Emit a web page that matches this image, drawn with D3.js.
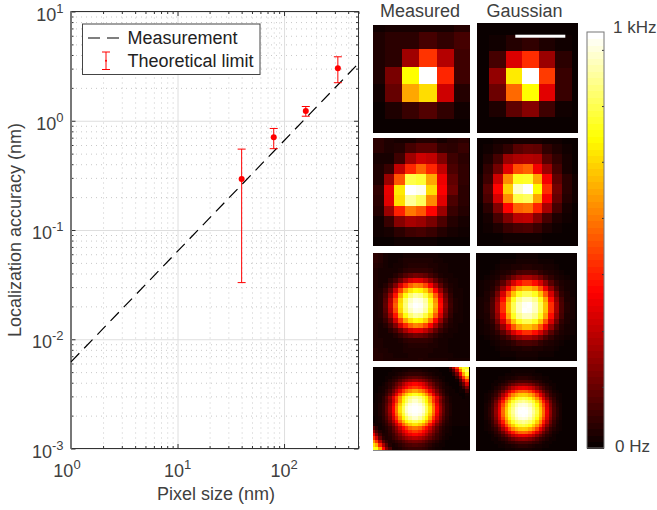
<!DOCTYPE html>
<html>
<head>
<meta charset="utf-8">
<script src="https://cdn.jsdelivr.net/npm/d3@7"></script>
<style>
  html, body { margin: 0; padding: 0; background: #fff; }
  svg { display: block; }
  text { font-family: "Liberation Sans", Helvetica, Arial, sans-serif; fill: #404040; }
</style>
</head>
<body>
<svg id="chart" width="657" height="510"></svg>
<script>
// line + error bars
const pixelSize = [40, 80, 160, 320];
const limitValue = [0.293, 0.705, 1.23, 3.02];
const limitLow = [0.033, 0.555, 1.10, 2.23];
const limitHigh = [0.55, 0.85, 1.35, 3.85];
const measureX = [1, 500];
const measureY = [0.0062, 3.35];
const xDecades = [1, 10, 100];
const xExponents = ["0", "1", "2"];
const yDecades = [10, 1, 0.1, 0.01, 0.001];
const yExponents = ["1", "0", "-1", "-2", "-3"];
const legendLabels = ["Measurement", "Theoretical limit"];
const columnTitles = ["Measured", "Gaussian"];
const colorbarLabels = ["1 kHz", "0 Hz"];
const colorbarTicks = [0.147, 0.281, 0.418, 0.553, 0.688, 0.822, 0.957];

// heat maps, percent of 1 kHz
const measured1 = [
  [1,2,2,2,2,4],
  [3,5,5,9,6,9],
  [3,5,23,45,26,8],
  [3,17,75,100,43,8],
  [1,14,62,70,30,4],
  [0,3,7,11,6,1],
  [0,0,0,0,0,0]
];
const gaussian1 = [
  [0,0,0,0,0,0,0],
  [0,1,4,6,3,1,0],
  [0,9,32,44,22,5,0],
  [0,21,72,100,46,7,0],
  [0,15,53,75,33,7,0],
  [0,3,13,19,8,1,0],
  [0,0,0,0,0,0,0]
];
const measured2 = [
  [5,3,2,2,4,4,2,4,5],
  [5,3,4,9,12,12,6,5,7],
  [2,2,8,23,30,28,18,8,5],
  [3,7,28,43,52,43,28,10,6],
  [3,22,50,82,80,62,35,13,6],
  [6,34,72,100,98,70,37,15,5],
  [5,33,70,90,84,58,33,10,5],
  [4,22,42,55,50,38,22,7,4],
  [1,7,19,24,22,17,10,4,2],
  [1,2,5,8,9,7,4,2,1],
  [0,0,1,1,1,1,0,0,0]
];
const gaussian2 = [
  [0,0,1,1,2,2,2,1,1,0,0],
  [0,1,3,6,12,14,13,6,3,1,0],
  [0,3,9,22,25,26,25,12,6,2,0],
  [0,6,16,33,49,52,36,22,9,2,0],
  [1,8,30,58,78,79,62,36,13,5,1],
  [1,12,38,68,95,100,75,44,16,5,1],
  [1,10,31,58,82,84,62,36,14,4,1],
  [0,5,18,38,52,54,42,24,9,2,0],
  [0,2,9,18,27,28,19,9,3,1,0],
  [0,1,3,7,9,10,7,3,1,0,0],
  [0,0,0,1,1,1,1,0,0,0,0]
];
const measured3 = [
  [5,4,2,1,1,1,2,2,2,2,2,2,2,1,1,1,1,1,1,1],
  [5,4,2,1,1,2,3,3,3,3,3,3,2,2,1,1,1,1,1,1],
  [4,3,2,1,2,2,3,4,4,4,4,3,3,2,2,1,1,1,1,1],
  [3,2,2,2,2,3,5,6,6,6,6,5,3,2,2,1,1,1,1,1],
  [3,2,2,2,4,7,11,14,16,15,13,9,6,3,2,2,1,1,1,1],
  [3,2,2,5,9,16,24,31,34,33,28,21,13,7,4,2,2,1,1,1],
  [3,2,4,9,18,31,43,52,57,55,48,37,24,13,6,3,2,1,1,1],
  [3,3,7,15,30,47,62,71,76,74,68,55,38,22,10,4,2,2,1,1],
  [3,4,10,22,40,61,76,86,91,89,81,69,51,31,15,6,2,2,1,1],
  [3,4,12,27,48,69,85,94,98,97,91,77,59,37,18,7,3,2,1,1],
  [3,4,13,29,51,71,87,97,100,99,93,80,62,39,20,8,3,2,1,1],
  [3,4,12,27,48,69,85,94,98,97,91,77,59,37,18,7,3,2,1,1],
  [3,4,10,22,40,61,76,86,91,89,81,69,51,31,15,6,2,2,1,1],
  [3,3,7,15,30,47,62,71,76,74,68,55,38,22,10,4,2,2,1,1],
  [3,2,4,9,18,31,43,52,57,55,48,37,24,13,6,3,2,1,1,1],
  [3,2,2,5,9,16,24,31,34,33,28,21,13,7,4,2,2,1,1,1],
  [3,2,2,2,4,7,11,14,16,15,13,9,6,3,2,2,1,1,1,1],
  [3,3,2,2,2,3,5,6,6,6,6,5,3,2,2,1,1,1,1,1],
  [3,3,2,2,2,2,3,4,4,4,4,3,3,2,2,1,1,1,1,1],
  [4,3,3,2,2,2,3,3,3,3,3,3,2,2,2,1,1,1,1,1],
  [4,4,3,3,2,2,2,3,3,3,3,2,2,2,2,2,1,1,1,1],
  [4,4,3,3,3,3,3,3,3,4,3,3,3,3,3,2,2,2,2,2]
];
const gaussian3 = [
  [0,0,0,0,0,0,0,0,1,1,1,1,0,0,0,0,0,0,0],
  [0,0,0,0,0,1,1,1,2,2,2,2,1,1,1,0,0,0,0],
  [0,0,0,0,1,2,2,3,3,4,4,3,3,2,2,1,0,0,0],
  [0,0,0,1,2,3,4,6,9,10,10,9,6,4,3,2,1,0,0],
  [0,0,1,2,3,6,10,16,21,24,24,21,16,10,6,3,2,1,0],
  [0,1,2,3,6,12,21,31,39,44,44,39,31,21,12,6,3,2,1],
  [0,1,2,4,10,21,35,50,61,66,66,61,50,35,21,10,4,2,1],
  [0,1,3,6,16,31,50,66,78,83,83,78,66,50,31,16,6,3,1],
  [1,2,3,9,21,39,61,78,89,94,94,89,78,61,39,21,9,3,2],
  [1,2,4,10,24,44,66,83,94,99,100,94,83,66,44,24,10,4,2],
  [1,2,4,10,24,44,66,83,94,100,99,94,83,66,44,24,10,4,2],
  [1,2,3,9,21,39,61,78,89,94,94,89,78,61,39,21,9,3,2],
  [0,1,3,6,16,31,50,66,78,83,83,78,66,50,31,16,6,3,1],
  [0,1,2,4,10,21,35,50,61,66,66,61,50,35,21,10,4,2,1],
  [0,1,2,3,6,12,21,31,39,44,44,39,31,21,12,6,3,2,1],
  [0,0,1,2,3,6,10,16,21,24,24,21,16,10,6,3,2,1,0],
  [0,0,0,1,2,3,4,6,9,10,10,9,6,4,3,2,1,0,0],
  [0,0,0,0,1,2,2,3,3,4,4,3,3,2,2,1,0,0,0],
  [0,0,0,0,0,1,1,1,2,2,2,2,1,1,1,0,0,0,0],
  [0,0,0,0,0,0,0,0,1,1,1,1,0,0,0,0,0,0,0]
];
const measured4 = [
  [0,0,0,0,0,0,0,1,1,1,1,1,1,1,1,1,1,1,1,0,0,0,0,10,25,45,70,80,78],
  [0,0,0,0,0,0,1,1,1,2,2,3,3,3,3,2,2,1,1,1,0,0,0,3,12,30,55,76,85],
  [0,0,0,0,0,1,1,2,3,4,5,6,6,6,6,5,4,3,2,1,1,0,0,0,5,16,38,62,78],
  [0,0,0,0,1,1,3,4,6,8,10,12,13,13,12,10,8,6,4,3,1,1,0,0,0,7,22,45,62],
  [0,0,0,0,1,3,5,7,11,15,18,21,23,23,21,18,15,11,7,5,3,1,0,0,0,1,11,28,45],
  [0,0,0,1,3,5,8,13,18,25,31,35,38,38,35,31,25,18,13,8,5,3,1,0,0,0,5,14,30],
  [0,0,1,2,3,6,11,17,24,32,38,43,46,46,43,38,32,24,17,11,6,3,2,1,0,0,1,7,17],
  [0,0,1,2,5,9,16,25,34,45,53,58,62,62,58,53,45,34,25,16,9,5,2,1,1,0,1,1,8],
  [0,1,2,3,7,13,22,34,47,59,68,74,78,78,74,68,59,47,34,22,13,7,3,1,1,1,0,0,2],
  [0,1,2,5,11,20,33,46,59,72,81,87,90,90,87,81,72,59,46,33,20,11,5,2,1,1,1,0,1],
  [0,1,2,5,10,18,31,45,61,74,84,91,95,95,91,84,74,61,45,31,18,10,5,2,1,1,1,1,1],
  [1,1,3,6,12,21,35,52,67,80,91,97,99,99,97,91,80,67,52,35,21,12,6,3,1,1,1,1,1],
  [1,1,3,6,13,23,38,55,71,84,95,99,100,100,99,95,84,71,55,38,23,13,6,3,1,1,1,1,1],
  [1,1,3,6,13,23,38,55,71,84,95,99,100,100,99,95,84,71,55,38,23,13,6,3,1,1,1,1,1],
  [1,1,3,6,12,21,35,52,67,80,91,97,99,99,97,91,80,67,52,35,21,12,6,3,1,1,1,1,1],
  [0,1,2,5,10,18,31,45,61,74,84,91,95,95,91,84,74,61,45,31,18,10,5,2,1,1,1,1,1],
  [0,1,2,4,8,15,25,38,52,64,74,80,84,84,80,74,64,52,38,25,15,8,4,2,1,1,1,1,1],
  [3,1,1,3,6,11,18,29,40,52,61,67,71,71,67,61,52,40,29,18,11,6,3,2,1,1,1,1,1],
  [12,5,1,2,4,7,13,20,29,38,45,52,55,55,52,45,38,29,20,13,7,4,2,1,0,0,0,0,0],
  [22,10,4,2,3,6,11,17,24,32,38,43,46,46,43,38,32,24,17,11,6,3,2,1,0,0,0,0,0],
  [35,18,8,3,3,5,8,13,18,25,31,35,38,38,35,31,25,18,13,8,5,3,1,1,0,0,0,0,0],
  [45,30,14,5,3,4,7,10,14,18,22,25,27,27,25,22,18,14,10,7,4,2,1,0,0,0,0,0,0],
  [58,45,26,12,6,3,4,6,8,11,14,16,17,17,16,14,11,8,6,4,2,1,0,0,0,0,0,0,0],
  [70,62,42,24,12,4,2,3,5,7,9,10,11,11,10,9,7,5,3,2,1,1,0,0,0,0,0,0,0],
  [78,76,60,38,18,10,2,2,3,5,6,7,7,7,7,6,5,3,2,1,1,0,0,0,0,0,0,0,0]
];
const gaussian4 = [
  [0,0,0,0,0,0,0,0,0,0,0,0,0,0,0,0,0,0,0,0,0,0,0,0,0,0,0,0,0,0],
  [0,0,0,0,0,0,0,0,0,0,0,1,1,1,1,1,1,1,0,0,0,0,0,0,0,0,0,0,0,0],
  [0,0,0,0,0,0,0,0,0,1,1,1,2,2,2,2,2,1,1,1,0,0,0,0,0,0,0,0,0,0],
  [0,0,0,0,0,0,0,1,1,2,2,3,4,5,5,5,4,3,2,2,1,1,0,0,0,0,0,0,0,0],
  [0,0,0,0,0,0,1,1,2,4,6,7,9,10,10,10,9,7,6,4,2,1,1,0,0,0,0,0,0,0],
  [0,0,0,0,0,1,1,3,5,7,11,15,18,20,21,20,18,15,11,7,5,3,1,1,0,0,0,0,0,0],
  [0,0,0,0,0,1,3,5,9,14,20,27,31,34,35,34,31,27,20,14,9,5,3,1,0,0,0,0,0,0],
  [0,0,0,0,1,2,5,9,15,24,32,41,48,52,53,52,48,41,32,24,15,9,5,2,1,0,0,0,0,0],
  [0,0,0,1,2,4,7,14,24,34,47,57,63,67,68,67,63,57,47,34,24,14,7,4,2,1,0,0,0,0],
  [0,0,0,1,2,6,11,20,32,47,59,68,76,80,82,80,76,68,59,47,32,20,11,6,2,1,0,0,0,0],
  [0,0,0,1,3,7,15,27,41,57,68,79,85,88,90,88,85,79,68,57,41,27,15,7,3,1,0,0,0,0],
  [0,0,0,2,4,9,18,32,48,63,76,85,92,96,97,96,92,85,76,63,48,32,18,9,4,2,0,0,0,0],
  [0,0,0,2,5,10,20,34,52,67,80,88,96,99,100,99,96,88,80,67,52,34,20,10,5,2,0,0,0,0],
  [0,0,0,2,5,10,21,35,53,68,82,90,97,100,100,100,97,90,82,68,53,35,21,10,5,2,0,0,0,0],
  [0,0,0,2,5,10,20,34,52,67,80,88,96,99,100,99,96,88,80,67,52,34,20,10,5,2,0,0,0,0],
  [0,0,0,2,4,9,18,32,48,63,76,85,92,96,97,96,92,85,76,63,48,32,18,9,4,2,0,0,0,0],
  [0,0,0,1,3,7,15,27,41,57,68,79,85,88,90,88,85,79,68,57,41,27,15,7,3,1,0,0,0,0],
  [0,0,0,1,2,6,11,20,32,47,59,68,76,80,82,80,76,68,59,47,32,20,11,6,2,1,0,0,0,0],
  [0,0,0,1,2,4,7,14,24,34,47,57,63,67,68,67,63,57,47,34,24,14,7,4,2,1,0,0,0,0],
  [0,0,0,0,1,2,5,9,15,24,32,41,48,52,53,52,48,41,32,24,15,9,5,2,1,0,0,0,0,0],
  [0,0,0,0,0,1,3,5,9,14,20,27,31,34,35,34,31,27,20,14,9,5,3,1,0,0,0,0,0,0],
  [0,0,0,0,0,1,1,3,5,7,11,15,18,20,21,20,18,15,11,7,5,3,1,1,0,0,0,0,0,0],
  [0,0,0,0,0,0,1,1,2,4,6,7,9,10,10,10,9,7,6,4,2,1,1,0,0,0,0,0,0,0],
  [0,0,0,0,0,0,0,1,1,2,2,3,4,5,5,5,4,3,2,2,1,1,0,0,0,0,0,0,0,0],
  [0,0,0,0,0,0,0,0,0,1,1,1,2,2,2,2,2,1,1,1,0,0,0,0,0,0,0,0,0,0]
];

const svg = d3.select("#chart");

// matlab "hot"
const hot = d3.scaleLinear()
  .domain([0, 0.375, 0.75, 1])
  .range(["#0a0000", "#ff0000", "#ffff00", "#ffffff"])
  .clamp(true);

// ---------- left plot ----------
const plot = { left: 71, right: 358.5, top: 11.5, bottom: 448.5 };
const x = d3.scaleLog().domain([1, 500]).range([plot.left, plot.right]);
const y = d3.scaleLog().domain([0.001, 10]).range([plot.bottom, plot.top]);
const plotW = plot.right - plot.left;
const plotH = plot.bottom - plot.top;

const xMinor = x.ticks().filter(d => !xDecades.includes(d));
const yMinor = y.ticks().filter(d => !yDecades.some(v => Math.abs(v - d) < v * 1e-6));

// grid
svg.append("g").attr("transform", `translate(0,${plot.bottom})`)
  .call(d3.axisBottom(x).tickValues(xMinor).tickSize(-plotH).tickFormat(""))
  .call(g => g.select(".domain").remove())
  .call(g => g.selectAll("line").attr("stroke", "#c8c8c8").attr("stroke-dasharray", "1,4"));
svg.append("g").attr("transform", `translate(${plot.left},0)`)
  .call(d3.axisLeft(y).tickValues(yMinor).tickSize(-plotW).tickFormat(""))
  .call(g => g.select(".domain").remove())
  .call(g => g.selectAll("line").attr("stroke", "#c8c8c8").attr("stroke-dasharray", "1,4"));
svg.append("g").attr("transform", `translate(0,${plot.bottom})`)
  .call(d3.axisBottom(x).tickValues(xDecades).tickSize(-plotH).tickFormat(""))
  .call(g => g.select(".domain").remove())
  .call(g => g.selectAll("line").attr("stroke", "#dedede"));
svg.append("g").attr("transform", `translate(${plot.left},0)`)
  .call(d3.axisLeft(y).tickValues(yDecades).tickSize(-plotW).tickFormat(""))
  .call(g => g.select(".domain").remove())
  .call(g => g.selectAll("line").attr("stroke", "#dedede"));

// inward ticks on all four sides
function ticks(axis, vals, size, tx, ty, color) {
  svg.append("g").attr("transform", `translate(${tx},${ty})`)
    .call(axis.tickValues(vals).tickSize(size).tickFormat(""))
    .call(g => g.select(".domain").remove())
    .call(g => g.selectAll("line").attr("stroke", color));
}
ticks(d3.axisBottom(x), xMinor, -2.5, 0, plot.bottom, "#333");
ticks(d3.axisBottom(x), xDecades, -4.5, 0, plot.bottom, "#333");
ticks(d3.axisTop(x), xMinor, -2.5, 0, plot.top, "#333");
ticks(d3.axisTop(x), xDecades, -4.5, 0, plot.top, "#333");
ticks(d3.axisLeft(y), yMinor, -2.5, plot.left, 0, "#333");
ticks(d3.axisLeft(y), yDecades, -4.5, plot.left, 0, "#333");
ticks(d3.axisRight(y), yMinor, -2.5, plot.right, 0, "#333");
ticks(d3.axisRight(y), yDecades, -4.5, plot.right, 0, "#333");

// frame
svg.append("rect")
  .attr("x", plot.left).attr("y", plot.top)
  .attr("width", plotW).attr("height", plotH)
  .attr("fill", "none").attr("stroke", "#333");
svg.append("line")
  .attr("x1", plot.left).attr("x2", plot.left)
  .attr("y1", plot.top).attr("y2", plot.bottom)
  .attr("stroke", "#777").attr("stroke-width", 2);

// measurement line
const line = d3.line().x(d => x(d[0])).y(d => y(d[1]));
svg.append("path")
  .attr("d", line(d3.zip(measureX, measureY)))
  .attr("fill", "none").attr("stroke", "#000").attr("stroke-width", 1.2)
  .attr("stroke-dasharray", "12,7");

// error bars
const capW = 4;
const bars = svg.append("g").selectAll("g").data(pixelSize).join("g");
bars.append("line")
  .attr("x1", d => x(d)).attr("x2", d => x(d))
  .attr("y1", (d, i) => y(limitLow[i])).attr("y2", (d, i) => y(limitHigh[i]))
  .attr("stroke", "#f00");
bars.append("line")
  .attr("x1", d => x(d) - capW).attr("x2", d => x(d) + capW)
  .attr("y1", (d, i) => y(limitLow[i])).attr("y2", (d, i) => y(limitLow[i]))
  .attr("stroke", "#f00");
bars.append("line")
  .attr("x1", d => x(d) - capW).attr("x2", d => x(d) + capW)
  .attr("y1", (d, i) => y(limitHigh[i])).attr("y2", (d, i) => y(limitHigh[i]))
  .attr("stroke", "#f00");
bars.append("circle")
  .attr("cx", d => x(d)).attr("cy", (d, i) => y(limitValue[i]))
  .attr("r", 3).attr("fill", "#f00");

// tick labels with superscripts
function powerLabel(sel, exp) {
  sel.append("tspan").text("10").attr("font-size", 18);
  sel.append("tspan").text(exp).attr("font-size", 13).attr("dy", -8);
}
xDecades.forEach((d, i) => {
  svg.append("text").attr("x", x(d) - (i === 0 ? 4 : 0)).attr("y", 476.5)
    .attr("text-anchor", "middle")
    .call(powerLabel, xExponents[i]);
});
yDecades.forEach((d, i) => {
  svg.append("text").attr("x", 63.5).attr("y", y(d) + 9)
    .attr("text-anchor", "end")
    .call(powerLabel, yExponents[i]);
});

// axis titles
svg.append("text").attr("x", 216).attr("y", 500)
  .attr("text-anchor", "middle").attr("font-size", 18)
  .text("Pixel size (nm)");
svg.append("text")
  .attr("transform", "translate(21,230) rotate(-90)")
  .attr("text-anchor", "middle").attr("font-size", 18)
  .text("Localization accuracy (nm)");

// legend
svg.append("rect").attr("x", 82.5).attr("y", 24).attr("width", 177.5).attr("height", 50.5)
  .attr("fill", "#fff").attr("stroke", "#444");
svg.append("line").attr("x1", 88).attr("x2", 120).attr("y1", 38).attr("y2", 38)
  .attr("stroke", "#000").attr("stroke-width", 1.2).attr("stroke-dasharray", "12,7");
svg.append("line").attr("x1", 106).attr("x2", 106).attr("y1", 52).attr("y2", 69.5).attr("stroke", "#f00");
svg.append("line").attr("x1", 102).attr("x2", 110).attr("y1", 52).attr("y2", 52).attr("stroke", "#f00");
svg.append("line").attr("x1", 102).attr("x2", 110).attr("y1", 69.5).attr("y2", 69.5).attr("stroke", "#f00");
svg.append("circle").attr("cx", 106).attr("cy", 60.7).attr("r", 1).attr("fill", "#f00");
legendLabels.forEach((t, i) => {
  svg.append("text").attr("x", 127.5).attr("y", 44 + i * 23)
    .attr("font-size", 18).style("fill", "#222").text(t);
});

// ---------- heat map panels ----------
const panels = [
  { data: measured1, ox: 367.3, oy: 14.6, cw: 17.33, ch: 17.4, x0: 373, x1: 470, y0: 25, y1: 133 },
  { data: gaussian1, ox: 472.8, oy: 18.2, cw: 16.5, ch: 16.5, x0: 477, x1: 578, y0: 23, y1: 133 },
  { data: measured2, ox: 373.2, oy: 132.2, cw: 10.6, ch: 10.5, x0: 373, x1: 470, y0: 138, y1: 246 },
  { data: gaussian2, ox: 473.5, oy: 134.5, cw: 9.85, ch: 9.85, x0: 477, x1: 578, y0: 138, y1: 246 },
  { data: measured3, ox: 373, oy: 253, cw: 5, ch: 5, x0: 373, x1: 470, y0: 253, y1: 361 },
  { data: gaussian3, ox: 473.7, oy: 253.2, cw: 5.33, ch: 5.45, x0: 476, x1: 577, y0: 253, y1: 361 },
  { data: measured4, ox: 371.5, oy: 365.5, cw: 3.35, ch: 3.38, x0: 373, x1: 470, y0: 367, y1: 451 },
  { data: gaussian4, ox: 474, oy: 366, cw: 3.4, ch: 3.4, x0: 476, x1: 577, y0: 367, y1: 451 }
];

panels.forEach((p, k) => {
  svg.append("clipPath").attr("id", "clip" + k)
    .append("rect").attr("x", p.x0).attr("y", p.y0)
    .attr("width", p.x1 - p.x0).attr("height", p.y1 - p.y0);
  const g = svg.append("g").attr("clip-path", `url(#clip${k})`);
  g.append("rect").attr("x", p.x0).attr("y", p.y0)
    .attr("width", p.x1 - p.x0).attr("height", p.y1 - p.y0)
    .attr("fill", hot(0));
  const cx = d3.scaleLinear().domain([0, 1]).range([p.ox, p.ox + p.cw]);
  const cy = d3.scaleLinear().domain([0, 1]).range([p.oy, p.oy + p.ch]);
  p.data.forEach((row, r) => {
    g.append("g").selectAll("rect").data(row).join("rect")
      .attr("x", (d, c) => cx(c))
      .attr("y", cy(r))
      .attr("width", p.cw + 0.3)
      .attr("height", p.ch + 0.3)
      .attr("shape-rendering", "crispEdges")
      .attr("fill", d => hot(d / 100));
  });
});

// gray edge under the last measured panel
svg.append("line").attr("x1", 373).attr("x2", 470).attr("y1", 450.5).attr("y2", 450.5)
  .attr("stroke", "#888");

// scale bar
svg.append("rect").attr("x", 515.3).attr("y", 34.7).attr("width", 50).attr("height", 3).attr("fill", "#fff");

columnTitles.forEach((t, i) => {
  svg.append("text").attr("x", i === 0 ? 420 : 524.5).attr("y", 16.5)
    .attr("text-anchor", "middle").attr("font-size", 18).text(t);
});

// ---------- colorbar ----------
const bar = { left: 587, right: 604, top: 32, bottom: 448 };
const cScale = d3.scaleLinear().domain([0, 1]).range([bar.bottom, bar.top]);
const steps = d3.range(64);
svg.append("g").selectAll("rect").data(steps).join("rect")
  .attr("x", bar.left)
  .attr("y", d => cScale((d + 1) / 64))
  .attr("width", bar.right - bar.left)
  .attr("height", (bar.bottom - bar.top) / 64 + 0.5)
  .attr("shape-rendering", "crispEdges")
  .attr("fill", d => hot(d / 63));
svg.append("g").attr("transform", `translate(${bar.right},0)`)
  .call(d3.axisRight(cScale).tickValues(colorbarTicks).tickSize(-2).tickFormat(""))
  .call(g => g.select(".domain").remove())
  .call(g => g.selectAll("line").attr("stroke", "#333"));
svg.append("rect")
  .attr("x", bar.left).attr("y", bar.top)
  .attr("width", bar.right - bar.left).attr("height", bar.bottom - bar.top)
  .attr("fill", "none").attr("stroke", "#777");
svg.append("text").attr("x", 613).attr("y", 32.5).attr("font-size", 17).text(colorbarLabels[0]);
svg.append("text").attr("x", 615).attr("y", 451.5).attr("font-size", 17).text(colorbarLabels[1]);
</script>
</body>
</html>
